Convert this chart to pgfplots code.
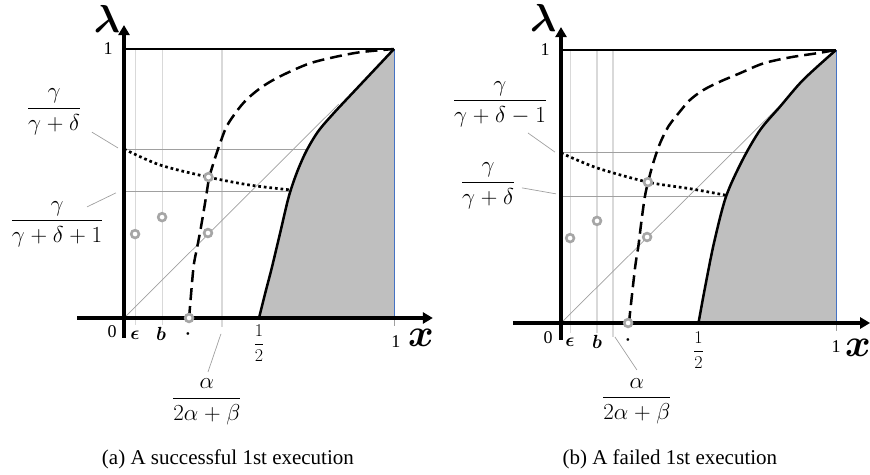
\documentclass[border=0pt]{standalone}
\usepackage{fix-cm}
\usepackage{pgfplots}
\pgfplotsset{compat=1.18}
\usepackage{amsmath}
\usepackage{bm}
\usepackage{fontspec}
\setmainfont{Liberation Serif}
\usetikzlibrary{arrows.meta}

\definecolor{ringgray}{HTML}{A6A6A6}
\definecolor{gridlight}{HTML}{D9D9D9}
\definecolor{guide}{HTML}{A0A0A0}
\definecolor{region}{HTML}{BFBFBF}
\definecolor{edgeblue}{HTML}{4472C4}

\pgfplotsset{
  panel/.style={scale only axis, hide axis, clip=false,
    xmin=0, xmax=1, ymin=0, ymax=1, anchor=south west},
  ring/.style={only marks, mark=*, mark size=3.9pt,
    mark options={draw=ringgray, fill=white, line width=2.6pt}},
  vgrid/.style={gridlight, line width=1.1pt},
  hguide/.style={guide, line width=0.9pt},
  leader/.style={guide, line width=0.7pt},
  mainaxis/.style={black, line width=3.6pt,
    -{Triangle[length=10pt, width=11pt]}},
  bound/.style={black, line width=2.5pt, smooth, tension=0.5},
  dashcurve/.style={black, line width=2.5pt, dash pattern=on 12pt off 6pt, smooth, tension=0.5},
  dotcurve/.style={black, line width=2.7pt, dash pattern=on 2.7pt off 2.9pt, smooth, tension=0.5},
}
\newcommand{\fracfont}{\fontsize{23}{26}\selectfont\medmuskip=4.5mu\relax}
\newcommand{\tickfont}{\fontsize{18}{20}\selectfont}
\newcommand{\letterfont}{\fontsize{19}{21}\selectfont}
\newcommand{\symfont}{\fontsize{39}{41}\selectfont}
\newcommand{\capfont}{\fontsize{21}{24}\selectfont}

\begin{document}
\begin{tikzpicture}
\useasboundingbox (0,0) rectangle (870pt,474pt);

% ---------- (a) successful first execution ----------
\begin{axis}[panel, at={(124pt,156pt)}, width=270pt, height=269pt]
  % feasible region
  \addplot[fill=region, draw=none] coordinates {
    (0.5,0) (0.525,0.1) (0.547,0.185) (0.578,0.315) (0.61,0.45) (0.64,0.54)
    (0.675,0.62) (0.72,0.695) (0.78,0.765) (0.85,0.84) (0.925,0.92) (1,1) (1,0)} -- cycle;
  \addplot[edgeblue, line width=0.8pt] coordinates {(1,0) (1,1)};
  % guide lines
  \addplot[vgrid] coordinates {(0.044,1) (0.044,-0.026)};
  \addplot[vgrid] coordinates {(0.141,1) (0.141,-0.026)};
  \addplot[vgrid] coordinates {(0.363,1) (0.363,-0.033)};
  \addplot[hguide] coordinates {(0,0.628) (0.68,0.628)};
  \addplot[hguide] coordinates {(0,0.472) (0.617,0.472)};
  \addplot[guide, line width=0.7pt] coordinates {(0,0) (0.795,0.795)};
  \addplot[guide, line width=0.7pt] coordinates {(1,0) (1,-0.03)};
  % curves
  \addplot[bound] coordinates {
    (0.5,0) (0.525,0.1) (0.547,0.185) (0.578,0.315) (0.61,0.45) (0.64,0.54)
    (0.675,0.62) (0.72,0.695) (0.78,0.765) (0.85,0.84) (0.925,0.92) (1,1)};
  \addplot[dashcurve] coordinates {
    (0.241,0) (0.257,0.185) (0.269,0.253) (0.281,0.315) (0.294,0.390)
    (0.306,0.464) (0.316,0.524) (0.337,0.594) (0.356,0.650) (0.38,0.712)
    (0.417,0.768) (0.454,0.812) (0.504,0.854) (0.553,0.885) (0.615,0.916)
    (0.689,0.947) (0.775,0.969) (0.874,0.988) (1,1)};
  \addplot[dotcurve] coordinates {
    (0,0.628) (0.133,0.569) (0.311,0.524) (0.467,0.494) (0.617,0.476)};
  % axes
  \addplot[black, line width=2.6pt] coordinates {(0,1) (1,1)};
  \addplot[mainaxis] coordinates {(-0.174,0) (1.144,0)};
  \addplot[mainaxis] coordinates {(0,-0.074) (0,1.089)};
  % sample points
  \addplot[ring] coordinates {
    (0.041,0.312) (0.141,0.375) (0.313,0.524) (0.311,0.316) (0.241,0)};
  % leaders
  \addplot[leader] coordinates {(-0.119,0.691) (-0.022,0.632)};
  \addplot[leader] coordinates {(-0.137,0.413) (-0.030,0.465)};
  \addplot[leader] coordinates {(0.359,-0.059) (0.311,-0.201)};
  % labels
  \node at (axis cs:-0.063,1.112) {\symfont$\boldsymbol{\lambda}$};
  \node at (axis cs:-0.059,1.0) {\tickfont 1};
  \node at (axis cs:-0.259,0.766) {\fracfont$\dfrac{\gamma}{\gamma+\delta}$};
  \node at (axis cs:-0.248,0.349) {\fracfont$\dfrac{\gamma}{\gamma+\delta+1}$};
  \node at (axis cs:-0.044,-0.052) {\tickfont 0};
  \node at (axis cs:0.041,-0.063) {\letterfont$\boldsymbol{\epsilon}$};
  \node at (axis cs:0.137,-0.059) {\letterfont$\boldsymbol{b}$};
  \node at (axis cs:0.237,-0.06) {\tickfont$\boldsymbol{\cdot}$};
  \node at (axis cs:0.5,-0.093) {\tickfont$\dfrac{1}{2}$};
  \node at (axis cs:1.007,-0.086) {\tickfont 1};
  \node at (axis cs:1.1,-0.075) {\symfont$\boldsymbol{x}$};
  \node at (axis cs:0.307,-0.312) {\fracfont$\dfrac{\alpha}{2\alpha+\beta}$};
  \node at (axis cs:0.385,-0.524) {\capfont (a) A successful 1st execution};
\end{axis}

% ---------- (b) failed first execution ----------
\begin{axis}[panel, at={(561pt,151pt)}, width=275pt, height=273pt]
  \addplot[fill=region, draw=none] coordinates {
    (0.5,0) (0.522,0.121) (0.556,0.292) (0.6,0.463) (0.66,0.597)
    (0.724,0.707) (0.796,0.792) (0.881,0.891) (1,1) (1,0)} -- cycle;
  \addplot[edgeblue, line width=0.8pt] coordinates {(1,0) (1,1)};
  \addplot[vgrid] coordinates {(0.033,1) (0.033,-0.037)};
  \addplot[vgrid] coordinates {(0.131,1) (0.131,-0.037)};
  \addplot[vgrid] coordinates {(0.189,1) (0.189,-0.051)};
  \addplot[hguide] coordinates {(0,0.623) (0.675,0.623)};
  \addplot[hguide] coordinates {(0,0.462) (0.6,0.462)};
  \addplot[guide, line width=0.7pt] coordinates {(0,0) (0.787,0.787)};
  \addplot[guide, line width=0.7pt] coordinates {(1,0) (1,-0.03)};
  \addplot[bound] coordinates {
    (0.5,0) (0.522,0.121) (0.556,0.292) (0.6,0.463) (0.66,0.597)
    (0.724,0.707) (0.796,0.792) (0.881,0.891) (1,1)};
  \addplot[dashcurve] coordinates {
    (0.247,0) (0.269,0.2) (0.281,0.279) (0.293,0.377) (0.305,0.463)
    (0.317,0.518) (0.335,0.585) (0.36,0.658) (0.39,0.719) (0.427,0.768)
    (0.469,0.817) (0.517,0.853) (0.578,0.884) (0.651,0.915) (0.736,0.951)
    (0.833,0.973) (0.93,0.988) (1,1)};
  \addplot[dotcurve] coordinates {
    (0,0.623) (0.131,0.568) (0.316,0.516) (0.469,0.492) (0.6,0.468)};
  \addplot[black, line width=2.6pt] coordinates {(0,1) (1,1)};
  \addplot[mainaxis] coordinates {(-0.175,0) (1.124,0)};
  \addplot[mainaxis] coordinates {(0,-0.062) (0,1.084)};
  \addplot[ring] coordinates {
    (0.033,0.311) (0.131,0.374) (0.316,0.516) (0.313,0.315) (0.244,0)};
  \addplot[leader] coordinates {(-0.12,0.696) (-0.022,0.626)};
  \addplot[leader] coordinates {(-0.142,0.495) (-0.018,0.473)};
  \addplot[leader] coordinates {(0.196,-0.051) (0.276,-0.172)};
  \node at (axis cs:-0.065,1.118) {\symfont$\boldsymbol{\lambda}$};
  \node at (axis cs:-0.058,1.0) {\tickfont 1};
  \node at (axis cs:-0.222,0.802) {\fracfont$\dfrac{\gamma}{\gamma+\delta-1}$};
  \node at (axis cs:-0.265,0.502) {\fracfont$\dfrac{\gamma}{\gamma+\delta}$};
  \node at (axis cs:-0.047,-0.055) {\tickfont 0};
  \node at (axis cs:0.033,-0.07) {\letterfont$\boldsymbol{\epsilon}$};
  \node at (axis cs:0.131,-0.07) {\letterfont$\boldsymbol{b}$};
  \node at (axis cs:0.244,-0.062) {\tickfont$\boldsymbol{\cdot}$};
  \node at (axis cs:0.5,-0.099) {\tickfont$\dfrac{1}{2}$};
  \node at (axis cs:1.0,-0.088) {\tickfont 1};
  \node at (axis cs:1.08,-0.09) {\symfont$\boldsymbol{x}$};
  \node at (axis cs:0.276,-0.286) {\fracfont$\dfrac{\alpha}{2\alpha+\beta}$};
  \node at (axis cs:0.396,-0.498) {\capfont (b) A failed 1st execution};
\end{axis}
\end{tikzpicture}
\end{document}
